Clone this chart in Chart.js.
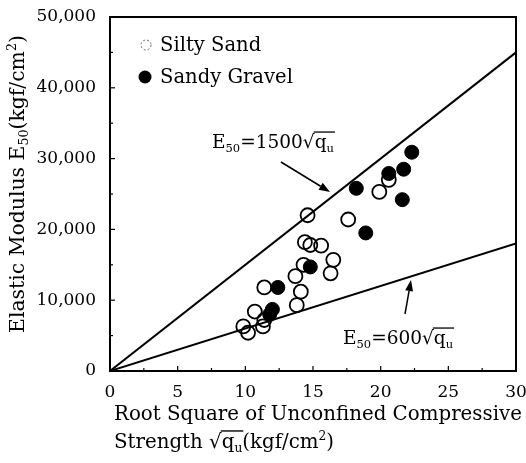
<!DOCTYPE html>
<html><head><meta charset="utf-8">
<script src="https://cdn.jsdelivr.net/npm/chart.js@4/dist/chart.umd.min.js"></script>
<style>html,body{margin:0;padding:0;background:#fff}canvas{display:block}</style>
</head><body>
<canvas id="c" width="526" height="463"></canvas>
<script>
// ---- data ----
const siltyX = [14.6, 17.6, 14.4, 14.8, 15.6, 16.5, 16.3, 14.3, 13.7, 14.1, 13.8, 11.4, 10.7, 11.4, 11.3, 9.85, 10.2, 20.6, 19.9];
const siltyY = [22000, 21400, 18200, 17800, 17700, 15700, 13800, 15000, 13400, 11200, 9300, 11800, 8400, 7200, 6300, 6300, 5400, 27000, 25300];
const gravelX = [22.3, 21.7, 20.6, 18.2, 21.6, 18.9, 14.8, 12.4, 12.0, 11.8];
const gravelY = [30900, 28500, 27900, 25800, 24200, 19500, 14700, 11800, 8700, 8000];
const lineX = [0, 30];
const lineCoefs = [1500, 600];
const xTicks = [0, 5, 10, 15, 20, 25, 30];
const yTicks = [0, 10000, 20000, 30000, 40000, 50000];
const seriesNames = ['Silty Sand', 'Sandy Gravel'];

const FONT = "'DejaVu Serif', serif";

function pts(xs, ys) { return xs.map((x, i) => ({ x: x, y: ys[i] })); }

function richWidth(ctx, segs, size, weight) {
  let w = 0;
  for (const s of segs) {
    if (s.rad) {
      ctx.font = weight + ' ' + size + 'px ' + FONT;
      w += ctx.measureText('\u221A').width + richWidth(ctx, s.rad, size, weight);
    } else {
      const sz = (s.sub || s.sup) ? size * 0.62 : size;
      ctx.font = weight + ' ' + sz + 'px ' + FONT;
      w += ctx.measureText(s.t).width;
    }
  }
  return w;
}
function drawRich(ctx, segs, x, y, size, weight) {
  let cx = x;
  ctx.textBaseline = 'alphabetic';
  ctx.textAlign = 'left';
  for (const s of segs) {
    if (s.rad) {
      ctx.font = weight + ' ' + size + 'px ' + FONT;
      const rw = ctx.measureText('\u221A').width;
      ctx.fillText('\u221A', cx, y);
      const innerStart = cx + rw;
      const end = drawRich(ctx, s.rad, innerStart, y, size, weight);
      ctx.beginPath();
      ctx.lineWidth = Math.max(1, size * 0.07);
      const oy = y - size * 0.86;
      ctx.moveTo(innerStart - 1, oy);
      ctx.lineTo(end + 1, oy);
      ctx.stroke();
      cx = end;
    } else {
      const sz = (s.sub || s.sup) ? size * 0.62 : size;
      ctx.font = weight + ' ' + sz + 'px ' + FONT;
      const dy = s.sub ? size * 0.2 : (s.sup ? -size * 0.38 : 0);
      ctx.fillText(s.t, cx, y + dy);
      cx += ctx.measureText(s.t).width;
    }
  }
  return cx;
}
function fitSize(ctx, segs, target, weight) {
  const w = richWidth(ctx, segs, 20, weight);
  return 20 * target / w;
}
function arrow(ctx, x0, y0, x1, y1) {
  const a = Math.atan2(y1 - y0, x1 - x0);
  const L = 11, W = 4;
  ctx.beginPath();
  ctx.lineWidth = 1.5;
  ctx.moveTo(x0, y0);
  ctx.lineTo(x1 - L * Math.cos(a), y1 - L * Math.sin(a));
  ctx.stroke();
  ctx.beginPath();
  ctx.moveTo(x1, y1);
  ctx.lineTo(x1 - L * Math.cos(a) + W * Math.sin(a), y1 - L * Math.sin(a) - W * Math.cos(a));
  ctx.lineTo(x1 - L * Math.cos(a) - W * Math.sin(a), y1 - L * Math.sin(a) + W * Math.cos(a));
  ctx.closePath();
  ctx.fill();
}

const deco = {
  id: 'deco',
  afterDraw(chart) {
    const ctx = chart.ctx;
    const a = chart.chartArea;
    const xs = chart.scales.x, ys = chart.scales.y;
    ctx.save();
    ctx.strokeStyle = '#000';
    ctx.fillStyle = '#000';
    ctx.lineWidth = 2;
    ctx.strokeRect(a.left, a.top, a.right - a.left, a.bottom - a.top);
    ctx.lineWidth = 1.2;
    for (let v = 0; v <= 50000; v += 5000) {
      const p = ys.getPixelForValue(v);
      const len = (v % 10000 === 0) ? 5 : 3;
      ctx.beginPath(); ctx.moveTo(a.left, p); ctx.lineTo(a.left + len, p); ctx.stroke();
    }
    for (let v = 0; v <= 30; v += 2.5) {
      const p = xs.getPixelForValue(v);
      const len = (v % 5 === 0) ? 5 : 3;
      ctx.beginPath(); ctx.moveTo(p, a.bottom); ctx.lineTo(p, a.bottom - len); ctx.stroke();
    }
    // legend
    ctx.save();
    ctx.setLineDash([2, 2]);
    ctx.lineWidth = 1;
    ctx.strokeStyle = '#666';
    ctx.beginPath(); ctx.arc(146, 45, 5, 0, Math.PI * 2); ctx.stroke();
    ctx.restore();
    ctx.beginPath(); ctx.arc(145, 77, 6.5, 0, Math.PI * 2); ctx.fill();
    const lsz = fitSize(ctx, [{ t: seriesNames[1] }], 133, 'normal');
    drawRich(ctx, [{ t: seriesNames[0] }], 160, 51, lsz, 'normal');
    drawRich(ctx, [{ t: seriesNames[1] }], 160, 83, lsz, 'normal');
    // annotations
    const up = [{ t: 'E' }, { t: '50', sub: true }, { t: '=' + lineCoefs[0] }, { rad: [{ t: 'q' }, { t: 'u', sub: true }] }];
    const lo = [{ t: 'E' }, { t: '50', sub: true }, { t: '=' + lineCoefs[1] }, { rad: [{ t: 'q' }, { t: 'u', sub: true }] }];
    const asz = fitSize(ctx, up, 122, 'normal');
    drawRich(ctx, up, 212, 148, asz, 'normal');
    drawRich(ctx, lo, 343, 344, asz, 'normal');
    arrow(ctx, 281, 162, 330, 192);
    arrow(ctx, 405, 314, 411, 280);
    // x title
    const t1 = [{ t: 'Root Square of Unconfined Compressive' }];
    const tsz = fitSize(ctx, t1, 408, 'normal');
    drawRich(ctx, t1, 114, 420, tsz, 'normal');
    const t2 = [{ t: 'Strength ' }, { rad: [{ t: 'q' }, { t: 'u', sub: true }] }, { t: '(kgf/cm' }, { t: '2', sup: true }, { t: ')' }];
    drawRich(ctx, t2, 114, 448, tsz, 'normal');
    // y title
    const yt = [{ t: 'Elastic Modulus E' }, { t: '50', sub: true }, { t: '(kgf/cm' }, { t: '2', sup: true }, { t: ')' }];
    const ysz = fitSize(ctx, yt, 298, 'normal');
    const yw = richWidth(ctx, yt, ysz, 'normal');
    ctx.save();
    ctx.translate(24, 184);
    ctx.rotate(-Math.PI / 2);
    drawRich(ctx, yt, -yw / 2, 0, ysz, 'normal');
    ctx.restore();
    ctx.restore();
  }
};

new Chart(document.getElementById('c'), {
  data: {
    datasets: [
      { type: 'line', label: 'E50=1500', data: lineX.map(x => ({ x: x, y: lineCoefs[0] * x })), borderColor: '#000', borderWidth: 2, pointRadius: 0, fill: false },
      { type: 'line', label: 'E50=600', data: lineX.map(x => ({ x: x, y: lineCoefs[1] * x })), borderColor: '#000', borderWidth: 2, pointRadius: 0, fill: false },
      { type: 'scatter', label: seriesNames[0], data: pts(siltyX, siltyY), pointRadius: 7, borderWidth: 1.8, borderColor: '#000', backgroundColor: 'rgba(0,0,0,0)' },
      { type: 'scatter', label: seriesNames[1], data: pts(gravelX, gravelY), pointRadius: 7, borderWidth: 1, borderColor: '#000', backgroundColor: '#000' }
    ]
  },
  options: {
    responsive: false,
    animation: false,
    devicePixelRatio: 1,
    layout: { padding: { left: 0, right: 10, top: 17, bottom: 0 } },
    plugins: { legend: { display: false }, tooltip: { enabled: false } },
    scales: {
      x: {
        type: 'linear', min: 0, max: 30,
        afterBuildTicks: s => { s.ticks = xTicks.map(v => ({ value: v })); },
        ticks: { color: '#000', font: { family: FONT, size: 17 }, padding: 3, maxRotation: 0 },
        grid: { display: false }, border: { display: false },
        afterFit: s => { s.height = 92; s.paddingLeft = 0; s.paddingRight = 0; }
      },
      y: {
        type: 'linear', min: 0, max: 50000,
        afterBuildTicks: s => { s.ticks = yTicks.map(v => ({ value: v })); },
        ticks: { color: '#000', font: { family: FONT, size: 17 }, padding: 6, callback: v => v.toLocaleString('en-US') },
        grid: { display: false }, border: { display: false },
        afterFit: s => { s.width = 110; s.paddingTop = 0; s.paddingBottom = 0; }
      }
    }
  },
  plugins: [deco]
});
</script>
</body></html>
